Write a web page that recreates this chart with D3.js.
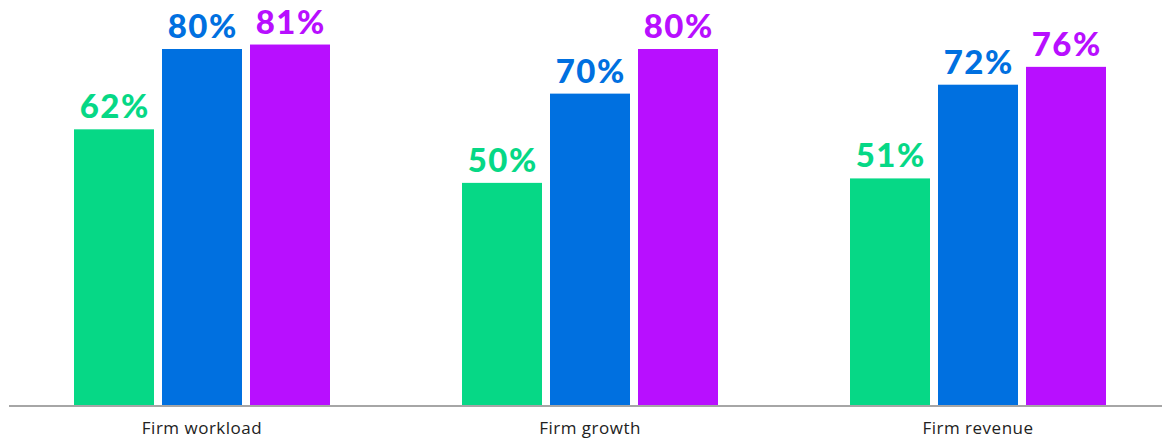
<!DOCTYPE html>
<html>
<head>
<meta charset="utf-8">
<script src="https://cdn.jsdelivr.net/npm/d3@7"></script>
<style>
  html, body { margin: 0; padding: 0; background: #fff; }
  svg { display: block; }
</style>
</head>
<body>
<svg id="chart" width="1162" height="440"></svg>
<script>
// Categories and series
const categories = ["Firm workload", "Firm growth", "Firm revenue"];
const seriesKeys = ["s1", "s2", "s3"];
const seriesColors = ["#06D886", "#0070E0", "#B80FFF"];
const s1 = [62, 50, 51];
const s2 = [80, 70, 72];
const s3 = [81, 80, 76];
const seriesValues = [s1, s2, s3];

const width = 1162, height = 440;
const baseY = 406;

const svg = d3.select("#chart");

const x0 = d3.scaleBand()
  .domain(categories)
  .range([8, 1172])
  .padding(0);

const x1 = d3.scaleBand()
  .domain(seriesKeys)
  .range([66, 322])
  .paddingInner(8 / 88)
  .paddingOuter(0);

const y = d3.scaleLinear()
  .domain([0, 80])
  .range([baseY, 49]);

const color = d3.scaleOrdinal().domain(seriesKeys).range(seriesColors);

const groups = svg.append("g")
  .selectAll("g")
  .data(categories)
  .join("g")
  .attr("transform", d => `translate(${x0(d)},0)`);

groups.selectAll("rect")
  .data((d, i) => seriesKeys.map((k, j) => ({ key: k, value: seriesValues[j][i] })))
  .join("rect")
  .attr("x", d => x1(d.key))
  .attr("width", x1.bandwidth())
  .attr("y", d => y(d.value))
  .attr("height", d => y(0) - y(d.value))
  .attr("fill", d => color(d.key));

// Value labels above each bar
groups.selectAll("text.value")
  .data((d, i) => seriesKeys.map((k, j) => ({ key: k, value: seriesValues[j][i] })))
  .join("text")
  .attr("class", "value")
  .attr("x", d => x1(d.key) + x1.bandwidth() / 2 + 0.75)
  .attr("y", d => y(d.value) - 11)
  .attr("text-anchor", "middle")
  .attr("fill", d => color(d.key))
  .style("font-family", "Lato, 'DejaVu Sans', sans-serif")
  .style("font-weight", 900)
  .style("font-size", "33px")
  .style("letter-spacing", "1.5px")
  .text(d => d.value + "%");

// Baseline axis
const axis = d3.axisBottom(x0).tickSize(0).tickPadding(16);
const axisG = svg.append("g")
  .attr("transform", `translate(0,${baseY})`)
  .call(axis);
axisG.select(".domain")
  .attr("d", `M9,0H${width}`)
  .attr("stroke", "#A6A6A6")
  .attr("stroke-width", 2);
axisG.selectAll(".tick text")
  .attr("fill", "#222")
  .style("font-family", "'Open Sans', sans-serif")
  .style("font-size", "17px")
  .style("font-weight", 500)
  .style("letter-spacing", "0.5px");
</script>
</body>
</html>
